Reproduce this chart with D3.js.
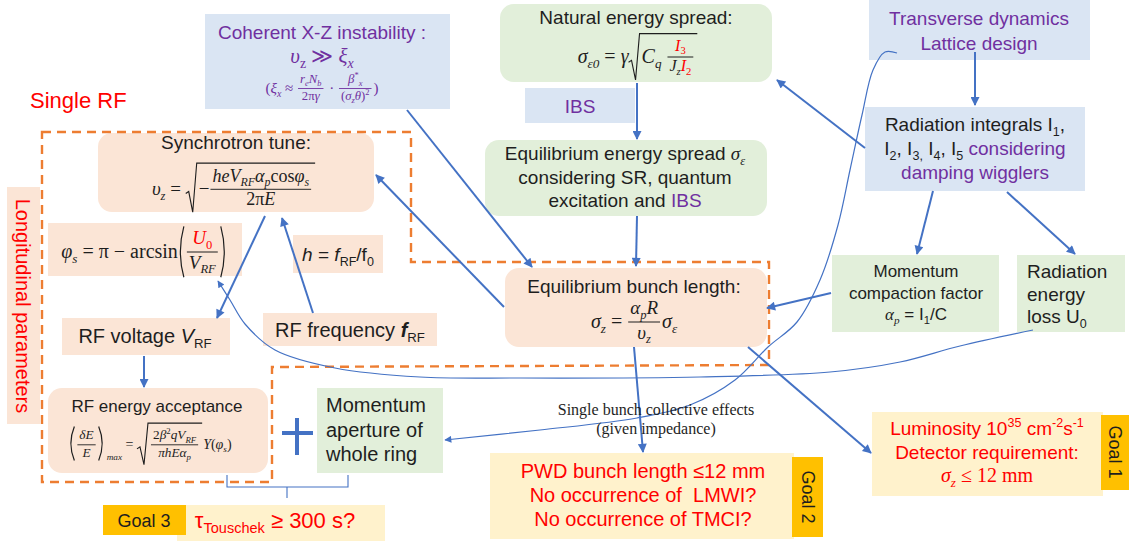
<!DOCTYPE html>
<html>
<head>
<meta charset="utf-8">
<script src="https://cdn.jsdelivr.net/npm/d3@7"></script>
<style>
  html, body { margin: 0; padding: 0; background: #fff; }
  svg text { white-space: pre; }
</style>
</head>
<body>
<svg id="chart" width="1129" height="541"></svg>
<script>
const SANS  = "'Liberation Sans', Arial, sans-serif";
const SERIF = "'Liberation Serif', 'Times New Roman', serif";
const RED = '#ff0000', PURPLE = '#7030a0', INK = '#1e1e1e', BLUE = '#4472c4', ORANGE = '#ed7d31';
const FILL = { blue: '#dae5f3', green: '#e2efda', peach: '#fbe5d6', cream: '#fff2cc', gold: '#ffc000' };

// ---- diagram content ----
const boxIds   = ['coh','nat','ibs','eqs','trans','rad','mom','loss','lon','syn','phi','h','vrf','frf','acc','ap','bl','pwd','g2','lum','g1','tou','g3'];
const boxFills = ['blue','green','blue','green','blue','blue','green','green','peach','peach','peach','peach','peach','peach','peach','green','peach','cream','gold','cream','gold','cream','gold'];
const rounded  = ['nat','eqs','syn','acc','bl'];

// arrows: from -> to
const edges  = [['trans','rad'],['rad','nat'],['rad','mom'],['rad','loss'],['nat','eqs'],['eqs','bl'],['coh','bl'],
                ['mom','bl'],['bl','syn'],['syn','vrf'],['frf','syn'],['vrf','acc'],['bl','pwd'],['bl','lum']];
const curves = [['loss','phi'],['trans','ap']];
const goals  = ['Goal 1', 'Goal 2', 'Goal 3'];

const cohTitle   = 'Coherent X-Z instability :';
const natTitle   = 'Natural energy spread:';
const synTitle   = 'Synchrotron tune:';
const blTitle    = 'Equilibrium bunch length:';
const accTitle   = 'RF energy acceptance';
const eqsLines   = [['Equilibrium energy spread ', ['σ','im'], ['ε','_im']], 'considering SR, quantum', ['excitation and ', ['IBS','u']]];
const transLines = ['Transverse dynamics', 'Lattice design'];
const radLines   = [['Radiation integrals I', ['1','_'], ','],
                    ['I',['2','_'],', I',['3,','_'],' I',['4','_'],', I',['5','_'],[' considering','u']],
                    [['damping wigglers','u']]];
const momLines   = ['Momentum', 'compaction factor', [['α','im'],['p','_im'],' = I',['1','_'],'/C']];
const lossLines  = ['Radiation', 'energy', ['loss U', ['0','_']]];
const apLines    = ['Momentum', 'aperture of', 'whole ring'];
const pwdLines   = ['PWD bunch length ≤12 mm', 'No occurrence of  LMWI?', 'No occurrence of TMCI?'];
const lumLines   = [['Luminosity 10',['35','^'],' cm',['-2','^'],'s',['-1','^']], 'Detector requirement:'];
const sbLines    = ['Single bunch collective effects', '(given impedance)'];

// formulas (rows of math items)
const fCoh1 = [['υ','i'],['z','_'],' ≫ ',['ξ','i'],['x','_i']];
const fCoh2 = ['(', ['ξ','i'], ['x','_i'], ' ≈ ',
  {frac: [[['r','i'],['e','_i'],['N','i'],['b','_i']], ['2π',['γ','i']]]}, ' · ',
  {frac: [[['β','i'],['*','^'],['x','_i']], ['(',['σ','i'],['z','_i'],['θ','i'],')',['2','^']]]}, ')'];
const fNat = [['σ','i'],['ε0','_i'],' = ',['γ','i'],
  {sqrt: [['C','i'],['q','_i'],' ',{frac: [[['I','ir'],['3','_r']], [['J','i'],['z','_i'],['I','ir'],['2','_r']]], k: 0.8}]}];
const fSyn = [['υ','i'],['z','_i'],' = ',
  {sqrt: ['−', {frac: [[['heV','i'],['RF','_i'],['α','i'],['p','_i'],'cos',['φ','i'],['s','_i']], ['2π',['E','i']]], k: 0.95}]}];
const fPhi = [['φ','i'],['s','_i'],' = π − arcsin',{paren: [{frac: [[['U','ir'],['0','_r']], [['V','i'],['RF','_i']]], k: 0.95}]}];
const fBl  = [['σ','i'],['z','_i'],' = ',{frac: [[['α','i'],['p','_i'],['R','i']], [['υ','i'],['z','_i']]], k: 0.95},['σ','i'],['ε','_i']];
const fAcc = [{paren: [{frac: [[['δE','i']], [['E','i']]], k: 0.95}]}, ['max','di'], ' = ',
  {sqrt: [{frac: [['2',['β','i'],['2','^'],['qV','i'],['RF','_i']], [['πhE','i'],['α','i'],['p','_i']]], k: 0.95}]},
  ['Y','i'],'(',['φ','i'],['s','_i'],')'];
const fLum = [['σ','i'],['z','_i'],' ≤ 12 mm'];
const fH   = [['h','i'],' = ',['f','i'],['RF','_'],'/f',['0','_']];
const fVrf = ['RF voltage ',['V','i'],['RF','_']];
const fFrf = ['RF frequency ',['f','ib'],['RF','_']];
const fTou = ['τ',['Touschek','_'],' ≥ 300 s?'];

// ---- layout ----
const box = {
  coh:[205,14,245,95], nat:[500,4,272,78], ibs:[525,88,110,35], eqs:[485,140,282,76],
  trans:[869,0,221,60], rad:[865,107,220,84], mom:[832,255,167,77], loss:[1017,255,108,77],
  lon:[7,187,33,237], syn:[98,133,276,79], phi:[48,223,194,53], h:[293,235,90,38],
  vrf:[62,318,168,37], frf:[263,313,174,33], acc:[48,388,220,85], ap:[317,388,126,85],
  bl:[505,268,262,79], pwd:[490,453,304,86], g2:[792,457,31,80], lum:[872,412,231,84],
  g1:[1101,415,28,75], tou:[177,505,208,36], g3:[103,505,83,30]
};
const edgePts = {
  'trans-rad': [[975,52],[975,105]],  'rad-nat': [[865,148],[777,80]],
  'rad-mom':   [[933,191],[917,254]], 'rad-loss': [[1007,192],[1075,254]],
  'nat-eqs':   [[637,83],[637,139]],  'eqs-bl':   [[637,216],[636,266]],
  'coh-bl':    [[407,110],[532,267]], 'mom-bl':   [[831,293],[767,308]],
  'bl-syn':    [[504,307],[376,175]], 'syn-vrf':  [[265,216],[217,318]],
  'frf-syn':   [[313,313],[282,218]], 'vrf-acc':  [[144,356],[144,387]],
  'bl-pwd':    [[634,347],[643,452]], 'bl-lum':   [[748,347],[871,453]]
};
const curvePts = {
  'loss-phi': [[1033,330],[960,346],[900,362],[830,372],[700,377],[520,378],[420,377],[335,368],[275,350],[245,324],[230,300],[218,281]],
  'trans-ap': [[897,53],[885,52],[873,70],[862,115],[850,170],[838,225],[820,280],[797,322],[768,347],[735,380],[690,405],[637,418],[540,430],[445,440]]
};
const dashOutline = [[42,132],[411,132],[411,262],[769,262],[769,365],[272,367],[272,482],[42,482]];

const svg = d3.select('#chart');
const defs = svg.append('defs');
[['ah', 11, 9], ['ahs', 9, 7]].forEach(([id, w, h]) => {
  defs.append('marker').attr('id', id).attr('viewBox', '0 0 10 10').attr('refX', 9).attr('refY', 5)
    .attr('markerWidth', w).attr('markerHeight', h).attr('markerUnits', 'userSpaceOnUse').attr('orient', 'auto')
    .append('path').attr('d', 'M0,0 L10,5 L0,10 Z').attr('fill', BLUE);
});

// ---- text helpers ----
function rich(g, x, y, segs, o) {
  const size = o.size;
  const t = g.append('text').attr('x', x).attr('y', y)
    .attr('font-size', size).attr('font-family', o.family || SANS)
    .attr('text-anchor', o.anchor || 'middle');
  if (o.fill) t.attr('fill', o.fill);
  let off = 0;
  for (const s of segs) {
    const [str, f] = typeof s === 'string' ? [s, ''] : [s[0], s[1] || ''];
    const want = f.includes('d') ? size * 0.75 : f.includes('_') ? size * 0.24 : f.includes('^') ? -size * 0.4 : 0;
    const ts = t.append('tspan').text(str);
    if (want !== off) ts.attr('dy', want - off);
    off = want;
    if (want) ts.attr('font-size', size * 0.66);
    if (f.includes('i')) ts.attr('font-style', 'italic');
    if (f.includes('b')) ts.attr('font-weight', 'bold');
    if (f.includes('m')) ts.attr('font-family', SERIF);
    if (f.includes('r')) ts.attr('fill', RED);
    if (f.includes('u')) ts.attr('fill', PURPLE);
  }
  return t;
}
const asSegs = l => (typeof l === 'string' ? [l] : l);
function textLines(g, x, y0, dy, arr, o) {
  arr.forEach((l, i) => rich(g, x, y0 + i * dy, asSegs(l), o));
}

// small math layout: rows of segments, fractions, roots, parentheses
function mrow(g, x, y, items, size) {
  let cx = x;
  for (const it of items) cx += mitem(g, cx, y, it, size);
  return cx - x;
}
function mitem(g, x, y, it, size) {
  if (it.frac) {
    const s = size * (it.k || 0.85);
    const gn = g.append('g'), gd = g.append('g');
    const wn = mrow(gn, 0, 0, it.frac[0], s), wd = mrow(gd, 0, 0, it.frac[1], s);
    const w = Math.max(wn, wd) + 4;
    const ax = y - size * 0.3;
    gn.attr('transform', `translate(${x + 1 + (w - wn) / 2},${ax - s * 0.4})`);
    gd.attr('transform', `translate(${x + 1 + (w - wd) / 2},${ax + s * 0.88})`);
    g.append('line').attr('x1', x + 1).attr('x2', x + w + 1).attr('y1', ax).attr('y2', ax)
      .attr('stroke', 'currentColor').attr('stroke-width', Math.max(0.9, size / 20));
    return w + 3;
  }
  if (it.sqrt) {
    const gi = g.append('g');
    const w = mrow(gi, x + 13, y, it.sqrt, size);
    const bb = gi.node().getBBox();
    const top = bb.y - 3, bot = bb.y + bb.height + 3;
    const mid = top + (bot - top) * 0.62;
    g.append('path')
      .attr('d', `M${x},${mid} L${x + 3},${mid - 2} L${x + 7},${bot} L${x + 11},${top} L${x + 15 + w},${top}`)
      .attr('fill', 'none').attr('stroke', 'currentColor').attr('stroke-width', 1.1);
    return w + 16;
  }
  if (it.paren) {
    const gi = g.append('g');
    const w = mrow(gi, x + 8, y, it.paren, size);
    const bb = gi.node().getBBox();
    const top = bb.y - 1, bot = bb.y + bb.height + 1, mid = (top + bot) / 2;
    const r = x + 8 + w;
    g.append('path')
      .attr('d', `M${x + 6},${top} Q${x - 1},${mid} ${x + 6},${bot} M${r + 1},${top} Q${r + 8},${mid} ${r + 1},${bot}`)
      .attr('fill', 'none').attr('stroke', 'currentColor').attr('stroke-width', 1.2);
    return w + 17;
  }
  const t = rich(g, x, y, [it], { size, anchor: 'start', family: SERIF });
  return t.node().getComputedTextLength();
}
function formula(g, cx, y, items, size, color, family) {
  const gg = g.append('g').attr('fill', color).style('color', color);
  let w;
  if (family) {
    const t = rich(gg, 0, y, items, { size, anchor: 'start', family });
    w = t.node().getComputedTextLength();
  } else {
    w = mrow(gg, 0, y, items, size);
  }
  gg.attr('transform', `translate(${cx - w / 2},0)`);
  return gg;
}
function vlabel(g, cx, cy, str, size, fill) {
  g.append('text').attr('transform', `translate(${cx},${cy}) rotate(90)`)
    .attr('text-anchor', 'middle').attr('dy', '0.35em')
    .attr('font-family', SANS).attr('font-size', size).attr('fill', fill).text(str);
}

// ---- boxes ----
const gBox = svg.append('g');
boxIds.forEach((id, i) => {
  const [x, y, w, h] = box[id];
  const r = rounded.includes(id) ? 14 : 0;
  gBox.append('rect').attr('x', x).attr('y', y).attr('width', w).attr('height', h)
    .attr('rx', r).attr('fill', FILL[boxFills[i]]);
});

// dashed outline of the longitudinal group
svg.append('path')
  .attr('d', d3.line()(dashOutline) + 'Z')
  .attr('fill', 'none').attr('stroke', ORANGE).attr('stroke-width', 2.4).attr('stroke-dasharray', '9,6');

// ---- links ----
const gLink = svg.append('g');
edges.forEach(([a, b]) => {
  const [[x1, y1], [x2, y2]] = edgePts[`${a}-${b}`];
  gLink.append('line').attr('x1', x1).attr('y1', y1).attr('x2', x2).attr('y2', y2)
    .attr('stroke', BLUE).attr('stroke-width', 2).attr('marker-end', 'url(#ah)');
});
const curveLine = d3.line().curve(d3.curveCatmullRom);
curves.forEach(([a, b]) => {
  gLink.append('path').attr('d', curveLine(curvePts[`${a}-${b}`]))
    .attr('fill', 'none').attr('stroke', BLUE).attr('stroke-width', 1.2).attr('marker-end', 'url(#ahs)');
});

// plus sign and brace
gLink.append('path').attr('d', 'M297,418 V455 M282,433 H313')
  .attr('stroke', BLUE).attr('stroke-width', 4).attr('fill', 'none');
gLink.append('path').attr('d', 'M227,475 V487 H348 V475 M287,487 V498')
  .attr('stroke', BLUE).attr('stroke-width', 1.1).attr('fill', 'none');

// ---- texts ----
const gT = svg.append('g');
const T = { size: 19, fill: INK };

rich(gT, 322, 39, [cohTitle], { size: 19, fill: PURPLE });
formula(gT, 322, 63, fCoh1, 21, PURPLE);
formula(gT, 322, 93, fCoh2, 15, PURPLE);

rich(gT, 636, 24, [natTitle], T);
formula(gT, 638, 63, fNat, 20, INK);

rich(gT, 580, 113, ['IBS'], { size: 19, fill: PURPLE });
textLines(gT, 625, 160, 23.5, eqsLines, T);

textLines(gT, 979, 25, 25, transLines, { size: 19, fill: PURPLE });
textLines(gT, 975, 131, 24, radLines, T);
textLines(gT, 916, 277, 21.5, momLines, { size: 17, fill: INK });
textLines(gT, 1027, 278, 22.5, lossLines, { size: 19, fill: INK, anchor: 'start' });

rich(gT, 30, 108, ['Single RF'], { size: 22, fill: RED, anchor: 'start' });
vlabel(gT, 23, 306, 'Longitudinal parameters', 20, RED);

rich(gT, 236, 149, [synTitle], T);
formula(gT, 234, 195, fSyn, 19, INK);
formula(gT, 145, 258, fPhi, 20, INK);
formula(gT, 338, 261, fH, 19, INK, SANS);
formula(gT, 145, 343, fVrf, 20, INK, SANS);
formula(gT, 350, 337, fFrf, 20, INK, SANS);

rich(gT, 157, 412, [accTitle], { size: 17, fill: INK });
formula(gT, 150, 449, fAcc, 14, INK);
textLines(gT, 326, 412, 24.5, apLines, { size: 20, fill: INK, anchor: 'start' });

rich(gT, 634, 293, [blTitle], T);
formula(gT, 634, 328, fBl, 20, INK);

textLines(gT, 656, 415, 19, sbLines, { size: 16, fill: INK, family: SERIF });
textLines(gT, 643, 478, 24, pwdLines, { size: 20, fill: RED });
textLines(gT, 987, 435, 23.5, lumLines, { size: 19, fill: RED });
formula(gT, 987, 482, fLum, 20, RED);

vlabel(gT, 1115, 452, goals[0], 18, INK);
vlabel(gT, 808, 497, goals[1], 18, INK);
rich(gT, 144, 527, [goals[2]], { size: 18, fill: INK });
formula(gT, 275, 528, fTou, 22, RED, SANS);
</script>
</body>
</html>
